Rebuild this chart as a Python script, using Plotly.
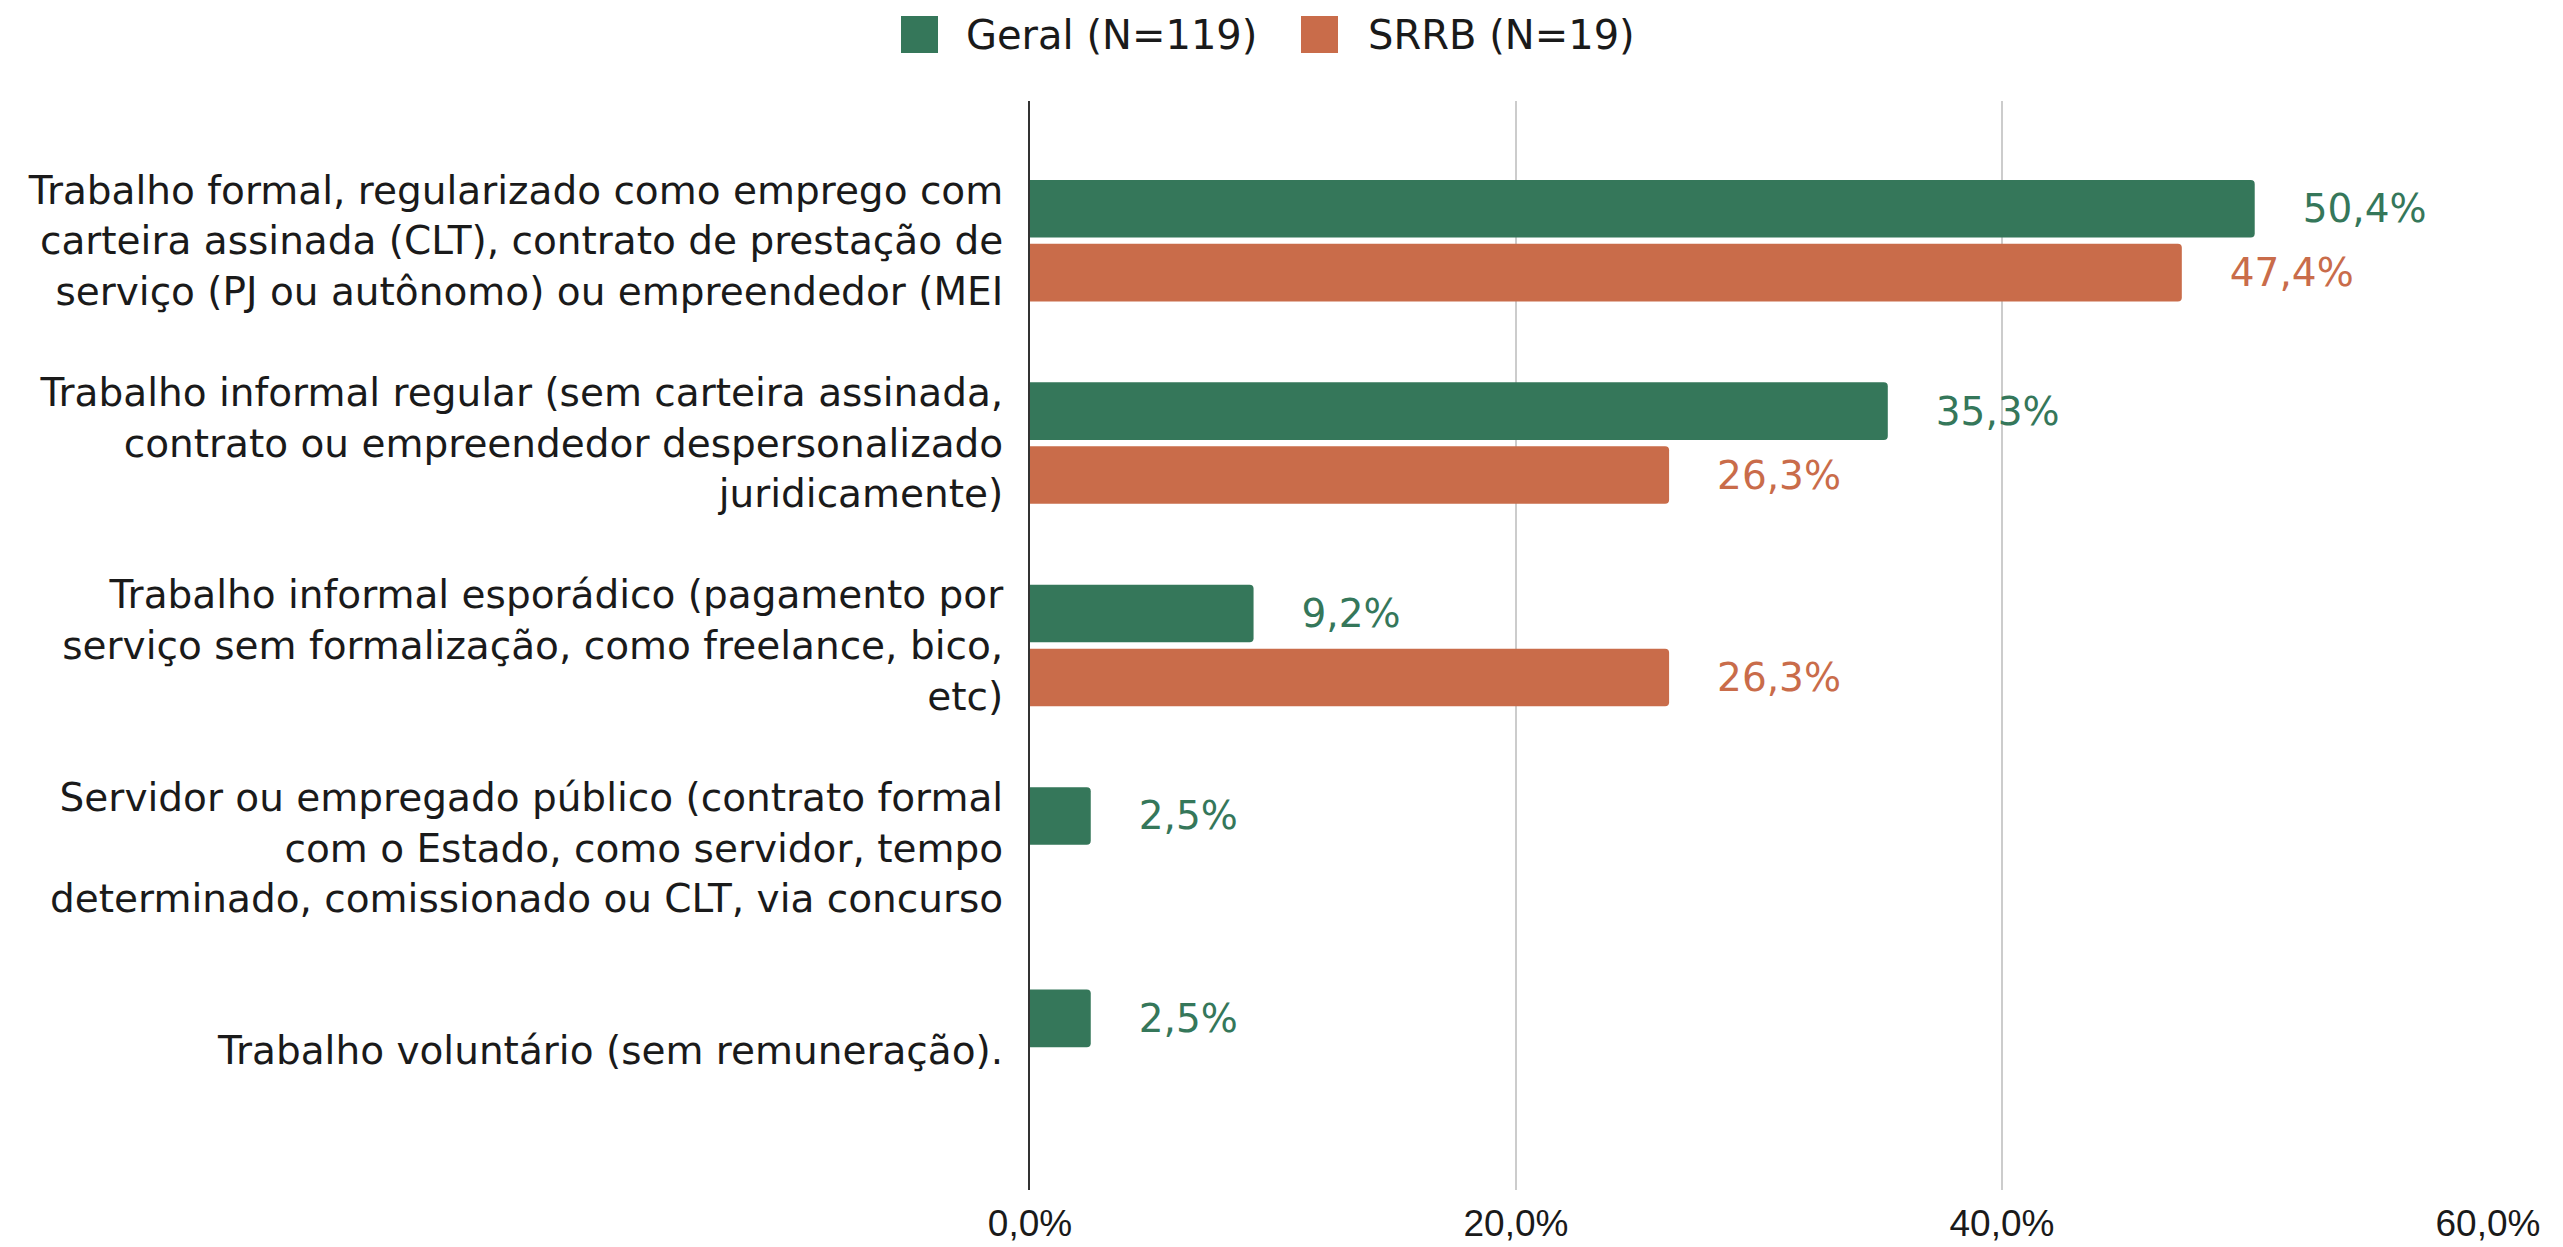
import plotly.graph_objects as go

categories = [
    "Trabalho formal, regularizado como emprego com<br>carteira assinada (CLT), contrato de prestação de<br>serviço (PJ ou autônomo) ou empreendedor (MEI",
    "Trabalho informal regular (sem carteira assinada,<br>contrato ou empreendedor despersonalizado<br>juridicamente)",
    "Trabalho informal esporádico (pagamento por<br>serviço sem formalização, como freelance, bico,<br>etc)",
    "Servidor ou empregado público (contrato formal<br>com o Estado, como servidor, tempo<br>determinado, comissionado ou CLT, via concurso",
    "Trabalho voluntário (sem remuneração).",
]
geral = [50.4, 35.3, 9.2, 2.5, 2.5]
srrb = [47.4, 26.3, 26.3, None, None]
series_names = ["Geral (N=119)", "SRRB (N=19)"]
x_ticks = [0, 20, 40, 60]
x_ticktext = [f"{v:.1f}".replace(".", ",") + "%" for v in x_ticks]

GREEN = "#35775A"
ORANGE = "#C96C4A"
FONT = "DejaVu Sans, Liberation Sans, Arial, sans-serif"
TICKFONT = "Liberation Sans, Arial, sans-serif"
OFF = 8  # default body margin of the page
W, H = 2563 - OFF, 1247 - OFF
PLOT_L, PLOT_R, PLOT_T, PLOT_B = 1030, 2488, 101, 1190  # page pixels
L, R, T, B = PLOT_L - OFF, W - (PLOT_R - OFF), PLOT_T - OFF, H - (PLOT_B - OFF)
PW, PH = W - L - R, H - T - B

fig = go.Figure()
pad = "\u00a0\u00a0\u00a0\u2009"
for name, vals, col in [(series_names[0], geral, GREEN), (series_names[1], srrb, ORANGE)]:
    fig.add_trace(go.Bar(
        y=categories, x=vals, name=name, orientation="h",
        marker=dict(color=col, line=dict(width=0)),
        texttemplate=pad + "%{x:.1f}%", textposition="outside",
        textfont=dict(color=col, size=39, family=FONT),
        cliponaxis=False, showlegend=False,
    ))

fig.update_layout(
    width=W, height=H,
    margin=dict(l=L, r=R, t=T, b=B, autoexpand=False),
    barmode="group", bargap=0.368, bargroupgap=0.1, barcornerradius=4,
    separators=",.",
    plot_bgcolor="white", paper_bgcolor="white",
    font=dict(family=FONT, color="#1a1a1a"),
    xaxis=dict(
        range=[0, 60], tickvals=x_ticks, ticktext=x_ticktext,
        showgrid=True, gridcolor="#CCCCCC", gridwidth=2,
        zeroline=False, showline=False, automargin=False,
        tickfont=dict(size=37, family=TICKFONT, color="#1a1a1a"),
        ticks="", ticklabelstandoff=8,
    ),
    yaxis=dict(
        type="category", range=[4.69, -0.69],
        showline=True, linecolor="#333333", linewidth=2,
        showgrid=False, ticks="", automargin=False,
        tickfont=dict(size=39, family=FONT, color="#1a1a1a"),
        ticklabelstandoff=17,
    ),
)

# manual legend (page pixel -> paper coords)
def px_to_paper_x(px):
    return (px - PLOT_L) / PW

def py_to_paper_y(py):
    return (PLOT_B - py) / PH

legend_items = [(series_names[0], GREEN, 901, 966), (series_names[1], ORANGE, 1301, 1368)]
for name, col, sx, tx in legend_items:
    fig.add_shape(type="rect", xref="paper", yref="paper",
                  x0=px_to_paper_x(sx), x1=px_to_paper_x(sx + 37),
                  y0=py_to_paper_y(16), y1=py_to_paper_y(53),
                  fillcolor=col, line=dict(width=0))
    fig.add_annotation(xref="paper", yref="paper",
                       x=px_to_paper_x(tx - 2), y=py_to_paper_y(35),
                       xanchor="left", yanchor="middle", showarrow=False,
                       text=name, font=dict(size=40, family=FONT, color="#1a1a1a"))

fig.write_html("out.html")
